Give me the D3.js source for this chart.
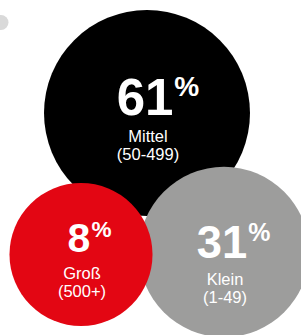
<!DOCTYPE html>
<html>
<head>
<meta charset="utf-8">
<script src="https://cdn.jsdelivr.net/npm/d3@7"></script>
<style>
  html, body { margin: 0; padding: 0; background: #fff; }
  svg { display: block; }
  text { font-family: "Liberation Sans", Arial, Helvetica, sans-serif; fill: #fff; }
</style>
</head>
<body>
<svg id="chart" width="301" height="335"></svg>
<script>
// ---- data ----
const categories = ["Mittel", "Klein", "Groß"];
const ranges = ["(50-499)", "(1-49)", "(500+)"];
const shares = [61, 31, 8];

// ---- layout (positions / styles, not data) ----
const layout = [
  { cx: 147, cy: 113, ty: 115, color: "#000000" },
  { cx: 224, cy: 252, ty: 258, color: "#9d9d9c" },
  { cx: 81,  cy: 254.5, ty: 252, color: "#e30613" }
];

const rScale = d3.scaleLinear().domain([8, 61]).range([71.5, 103]);
const fScale = d3.scaleLinear().domain([8, 61]).range([41, 51]);

const items = shares.map((v, i) => ({
  value: v, cat: categories[i], range: ranges[i], ...layout[i]
}));

const svg = d3.select("#chart");

// decorative dot top-left
svg.append("circle").attr("cx", 1).attr("cy", 22.5).attr("r", 7.5).attr("fill", "#d9d9d9");

const g = svg.selectAll("g.bubble").data(items).join("g").attr("class", "bubble");

g.append("circle")
  .attr("cx", d => d.cx)
  .attr("cy", d => d.cy)
  .attr("r", d => rScale(d.value))
  .attr("fill", d => d.color);

g.each(function(d) {
  const sel = d3.select(this);
  const fs = fScale(d.value);
  const num = sel.append("text")
    .attr("x", d.cx - 2)
    .attr("y", d.ty)
    .attr("text-anchor", "middle")
    .attr("font-weight", "bold")
    .attr("font-size", fs)
    .text(d.value);
  const w = num.node().getComputedTextLength();
  sel.append("text")
    .attr("x", d.cx - 2 + w / 2 + 1)
    .attr("y", d.ty - fs * 0.37)
    .attr("font-weight", "bold")
    .attr("font-size", fs * 0.55)
    .text("%");
  sel.append("text")
    .attr("x", d.cx + 1)
    .attr("y", d.ty + 27)
    .attr("text-anchor", "middle")
    .attr("font-size", 16.5)
    .text(d.cat);
  sel.append("text")
    .attr("x", d.cx + 1)
    .attr("y", d.ty + 45)
    .attr("text-anchor", "middle")
    .attr("font-size", 16.5)
    .text(d.range);
});
</script>
</body>
</html>
